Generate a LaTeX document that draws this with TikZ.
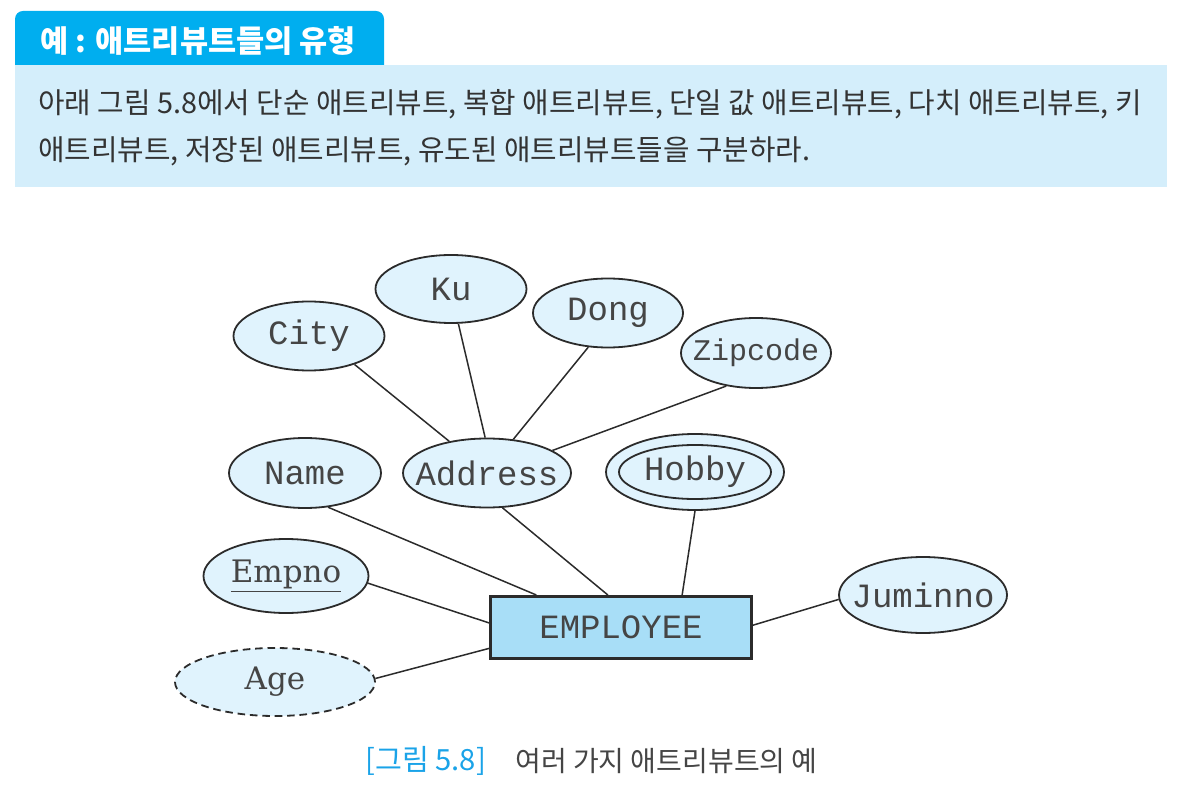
\documentclass[tikz,border=0pt]{standalone}
\usepackage{fontspec}
\setmainfont{Liberation Serif}
\newfontfamily\krfont{Noto Sans CJK KR}
\newfontfamily\erfont{Liberation Mono}
\newfontfamily\erserif{DejaVu Serif}
\usetikzlibrary{shapes.geometric,positioning}
\definecolor{ertab}{HTML}{00AEEF}
\definecolor{erpanel}{HTML}{D4EEFB}
\definecolor{erattr}{HTML}{E0F3FD}
\definecolor{erent}{HTML}{A8DEF7}
\definecolor{erline}{HTML}{2B2B2B}
\definecolor{ertext}{HTML}{454545}
\definecolor{erbody}{HTML}{333333}
\definecolor{ercap}{HTML}{1AA3E8}

\begin{document}
\begin{tikzpicture}[x=0.5pt,y=-0.5pt,
  attr/.style={ellipse,draw=erline,line width=0.9pt,fill=erattr,inner sep=0pt,text=ertext,
    font=\erfont\fontsize{17pt}{20pt}\selectfont,
    execute at begin node={\hbox to 0pt\bgroup\hss},execute at end node={\hss\egroup}},
  entity/.style={rectangle,draw=erline,line width=1.5pt,fill=erent,minimum width=130.5pt,
    minimum height=31pt,inner sep=0pt,text=ertext,font=\erfont\fontsize{17pt}{20pt}\selectfont},
  link/.style={draw=erline,line width=0.75pt},
  krtext/.style={anchor=west,inner sep=0pt,font=\krfont\fontsize{#1}{1.2\dimexpr#1\relax}\selectfont}]
  \useasboundingbox (0,0) rectangle (1188,796);
  % header
  \fill[ertab] (15,66) [rounded corners=4pt] -- (15,11) -- (384,11) [sharp corners] -- (384,66) -- cycle;
  \fill[erpanel] (15,65) rectangle (1167,187);
  \node[anchor=west,inner sep=0pt,text=white,font=\krfont\bfseries\fontsize{15.3pt}{18pt}\selectfont] (title) at (40,41) {예 : 애트리뷰트들의 유형};
  \node[krtext=14.4pt,text=erbody] (line1) at (38,104)
    {아래 그림 5.8에서 단순 애트리뷰트, 복합 애트리뷰트, 단일 값 애트리뷰트, 다치 애트리뷰트, 키};
  \node[krtext=14.4pt,text=erbody] (line2) at (38,151)
    {애트리뷰트, 저장된 애트리뷰트, 유도된 애트리뷰트들을 구분하라.};
  % attributes
  \foreach \nm/\x/\y/\w/\h/\lab in {ku/451/289/75.5/34/Ku, city/309/336/75.5/34.5/City,
      dong/608/313/75/34.5/Dong, name/305/473/76/35/Name, addr/487/473/84/34.5/Address,
      jumin/923/595/84/38/Juminno}{
    \node[attr,minimum width=\w pt,minimum height=\h pt] (\nm) at (\x,\y) {\lab};
  }
  \node[attr,minimum width=75pt,minimum height=35pt,font=\erfont\fontsize{15pt}{18pt}\selectfont] (zip) at (756,353) {Zipcode};
  \node[attr,minimum width=89pt,minimum height=38pt] (hobby) at (695,472) {};
  \node[attr,minimum width=76pt,minimum height=27pt] (hobbyin) at (hobby.center) {Hobby};
  \node[attr,minimum width=82.5pt,minimum height=37pt,font=\erserif\fontsize{15.5pt}{18pt}\selectfont] (empno) at (286,576) {\underline{Empno}};
  \node[attr,dash pattern=on 3.8pt off 2.4pt,minimum width=100pt,minimum height=34pt,font=\erserif\fontsize{15.5pt}{18pt}\selectfont] (age) at (275,682) {Age};
  % entity
  \node[entity] (emp) at (621,627.5) {EMPLOYEE};
  % connectors
  \foreach \a/\b in {city.-32/addr.140, ku.-78/addr.93, dong.-120/addr.52, zip.-132/addr.19,
      name.-56/emp.159, addr.-66/emp.112, hobby.-90/emp.28, empno.-5/emp.178,
      age.2/emp.189, jumin.183/emp.1}{
    \draw[link] (\a) -- (\b);
  }
  % caption
  \node[krtext=14.6pt,text=ercap] (figno) at (365,761) {[그림 5.8]};
  \node[krtext=14pt,text=ertext] (figcap) at (515,761) {여러 가지 애트리뷰트의 예};
\end{tikzpicture}
\end{document}
